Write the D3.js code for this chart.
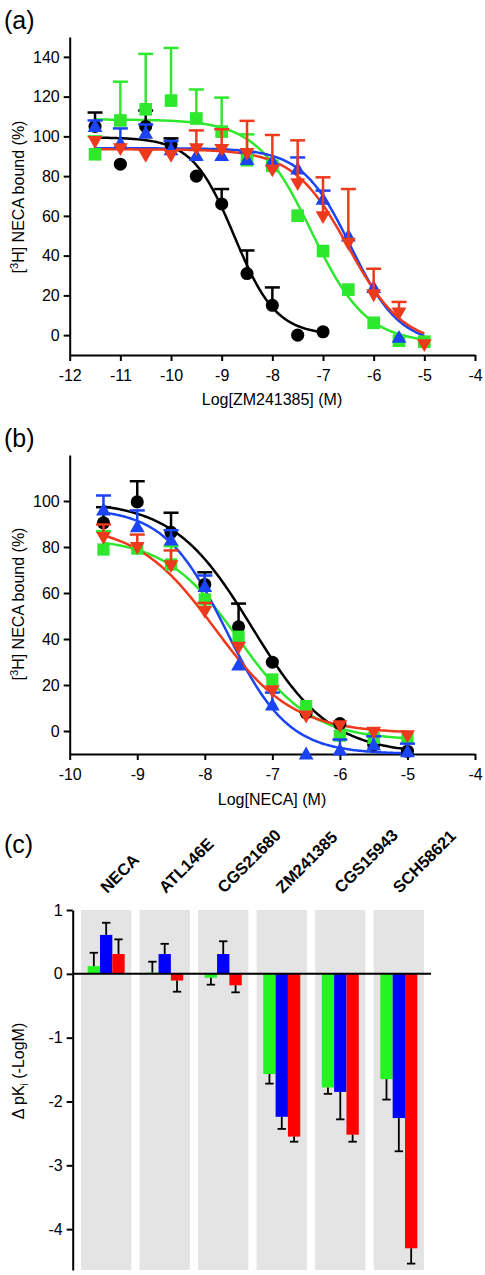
<!DOCTYPE html>
<html><head><meta charset="utf-8">
<script src="https://cdn.jsdelivr.net/npm/d3@7"></script>
<style>body{margin:0;background:#fff} text{font-family:"Liberation Sans",Arial,Helvetica,sans-serif}</style>
</head><body><svg id="c" width="485" height="1275"></svg>
<script>
// ---------- Panel (a): ZM241385 competition ----------
const aX = [-11.5,-11,-10.5,-10,-9.5,-9,-8.5,-8,-7.5,-7,-6.5,-6,-5.5,-5];
const aBlack    = [105,86,105,96,80,66,31,15,0,1.7,null,null,null,null];
const aBlackErr = [112,null,113,99,null,73.5,42.6,24,null,null,null,null,null,null];
const aGreen    = [91,108,113.6,118,109,102.4,88,85.2,60.1,42.3,22.9,6.2,-2.8,-3.3];
const aGreenErr = [100,127.5,141.5,144.5,123.6,119.5,101,null,null,null,null,null,null,null];
const aBlue     = [104.4,96,101,92.7,89.7,89.7,87.7,86.9,83,67.7,49.3,23.4,-1.7,null];
const aBlueErr  = [108,104,106,97.7,null,null,91.9,null,89.4,72.7,null,null,null,null];
const aRed      = [98,94.4,91,91,94.4,94,92,83.7,76.8,60.2,46.8,20.9,11.7,-4.2];
const aRedErr   = [null,null,null,null,103,103.6,107.8,100.7,98,79.4,73.5,33.4,16.7,null];
// fitted curve parameters: [top, bottom, logIC50, hill, xStart, xEnd]
const aFitBlack = [99.5,0,-8.75,1.05,-11.5,-7];
const aFitGreen = [108.5,-4,-7.23,0.8,-11.5,-5];
const aFitBlue  = [94,-5,-6.45,0.9,-11.5,-5];
const aFitRed   = [93.5,-5,-6.5,0.8,-11.5,-5];
const aXTicks = [-12,-11,-10,-9,-8,-7,-6,-5,-4];
const aYTicks = [0,20,40,60,80,100,120,140];

// ---------- Panel (b): NECA competition ----------
const bX = [-9.5,-9,-8.5,-8,-7.5,-7,-6.5,-6,-5.5,-5];
const bBlack    = [90.5,99.6,86.4,63.7,45.3,29.9,7.9,3.2,-6,-8.8];
const bBlackErr = [97.3,108.6,94.9,69,55.4,null,null,null,null,null];
const bGreen    = [78.9,79.3,72.4,57.2,41,22.4,10.8,-2,-3,-3];
const bGreenErr = [86.9,null,80.4,null,null,null,null,null,null,null];
const bBlue     = [95.6,88.3,82.5,62.3,28.2,10.8,-10.5,-8.8,-6.6,-9.5];
const bBlueErr  = [102.4,95.9,87.3,67.6,null,16.7,null,-3.7,-2.3,-5.5];
const bRed      = [84.7,80.3,72.4,52.5,36.9,18,7,2.8,0,-1.5];
const bRedErr   = [89.8,85.4,78.5,55.7,null,null,null,null,null,null];
const bFitBlack = [100,-10,-7.3,0.75,-9.5,-5];
const bFitGreen = [84,-4,-7.5,0.8,-9.5,-5];
const bFitBlue  = [97,-10,-7.68,0.95,-9.5,-5];
const bFitRed   = [90,-1,-7.85,0.75,-9.5,-5];
const bXTicks = [-10,-9,-8,-7,-6,-5,-4];
const bYTicks = [0,20,40,60,80,100];

// ---------- Panel (c): delta pKi ----------
const cCats  = ["NECA","ATL146E","CGS21680","ZM241385","CGS15943","SCH58621"];
const cGreen = [0.12,0.02,-0.06,-1.57,-1.78,-1.65];
const cGreenErr = [0.21,0.17,0.11,0.15,0.10,0.32];
const cBlue  = [0.61,0.31,0.31,-2.24,-1.85,-2.26];
const cBlueErr = [0.19,0.16,0.20,0.19,0.43,0.52];
const cRed   = [0.31,-0.105,-0.18,-2.55,-2.52,-4.30];
const cRedErr = [0.23,0.175,0.11,0.08,0.11,0.24];
const cYTicks = [1,0,-1,-2,-3,-4];

const COL = {black:"#000000", green:"#2ee82e", blue:"#1a44f5", red:"#ee3a1c"};
const svg = d3.select("#c");
const FONT = 16;

function fitY(p, x){ return p[1] + (p[0]-p[1])/(1+Math.pow(10,(x-p[2])*p[3])); }

function curvePanel(opt){
  const x = d3.scaleLinear().domain(opt.xd).range([69.7,475]);
  const y = d3.scaleLinear().domain(opt.yd).range(opt.yr);
  const g = svg.append("g");
  const ax = g.append("g").attr("transform",`translate(0,${opt.yr[0]})`)
    .call(d3.axisBottom(x).tickValues(opt.xt).tickFormat(d=>String(d)).tickSize(6).tickSizeOuter(0).tickPadding(4));
  const ay = g.append("g").attr("transform",`translate(69.7,0)`)
    .call(d3.axisLeft(y).tickValues(opt.yt).tickFormat(d=>String(d)).tickSize(6).tickSizeOuter(0).tickPadding(4));
  [ax,ay].forEach(a=>{a.selectAll("path,line").attr("stroke","#000").attr("stroke-width",2);
    a.selectAll("text").attr("font-size",FONT).attr("fill","#000");});
  ax.selectAll("text").attr("dy","1em");
  const line = d3.line().x(d=>x(d[0])).y(d=>y(d[1]));
  opt.series.forEach(s=>{
    const p = s.fit; const pts = [];
    for(let i=0;i<=200;i++){const xv = p[4]+(p[5]-p[4])*i/200; pts.push([xv,fitY(p,xv)]);}
    g.append("path").attr("d",line(pts)).attr("fill","none").attr("stroke",s.c).attr("stroke-width",2.5);
  });
  opt.series.forEach(s=>{
    const sg = g.append("g");
    opt.xs.forEach((xv,i)=>{
      const v = s.v[i], e = s.e[i];
      if(v==null||e==null) return;
      sg.append("line").attr("x1",x(xv)).attr("x2",x(xv)).attr("y1",y(v)).attr("y2",y(e)).attr("stroke",s.c).attr("stroke-width",2.5);
      sg.append("line").attr("x1",x(xv)-7.5).attr("x2",x(xv)+7.5).attr("y1",y(e)).attr("y2",y(e)).attr("stroke",s.c).attr("stroke-width",2.5);
    });
    opt.xs.forEach((xv,i)=>{
      const v = s.v[i]; if(v==null) return;
      sg.append("path").attr("d",d3.symbol().type(s.sym).size(s.size)())
        .attr("transform",`translate(${x(xv)},${y(v)})${s.rot?" rotate(180)":""}`).attr("fill",s.c);
    });
  });
  g.append("text").attr("x",272).attr("y",opt.titleY).attr("text-anchor","middle").attr("font-size",FONT).text(opt.xTitle);
  const yl = g.append("text").attr("transform",`translate(24,${opt.yLabelC}) rotate(-90)`).attr("text-anchor","middle").attr("font-size",FONT);
  yl.append("tspan").text("[");
  yl.append("tspan").attr("font-size",11).attr("dy",-6).text("3");
  yl.append("tspan").attr("dy",6).text("H] NECA bound (%)");
  g.append("text").attr("x",4).attr("y",opt.letterY).attr("font-size",25).text(opt.letter);
}

const mk = (fit,v,e,c,sym,size,rot)=>({fit,v,e,c,sym,size,rot});
curvePanel({xd:[-12,-4], yd:[-10,150], yr:[355,37], xt:aXTicks, yt:aYTicks, xs:aX,
  xTitle:"Log[ZM241385] (M)", titleY:405, yLabelC:197, letter:"(a)", letterY:29,
  series:[
    mk(aFitBlack,aBlack,aBlackErr,COL.black,d3.symbolCircle,135,false),
    mk(aFitGreen,aGreen,aGreenErr,COL.green,d3.symbolSquare,160,false),
    mk(aFitBlue,aBlue,aBlueErr,COL.blue,d3.symbolTriangle,95,false),
    mk(aFitRed,aRed,aRedErr,COL.red,d3.symbolTriangle,95,true)
  ]});
curvePanel({xd:[-10,-4], yd:[-10,120], yr:[754,455], xt:bXTicks, yt:bYTicks, xs:bX,
  xTitle:"Log[NECA] (M)", titleY:805, yLabelC:604, letter:"(b)", letterY:447,
  series:[
    mk(bFitBlack,bBlack,bBlackErr,COL.black,d3.symbolCircle,135,false),
    mk(bFitGreen,bGreen,bGreenErr,COL.green,d3.symbolSquare,150,false),
    mk(bFitBlue,bBlue,bBlueErr,COL.blue,d3.symbolTriangle,95,false),
    mk(bFitRed,bRed,bRedErr,COL.red,d3.symbolTriangle,95,true)
  ]});

// ---------- Panel (c) ----------
(function(){
  const g = svg.append("g");
  const y = d3.scaleLinear().domain([-4.64,1]).range([1270,910]);
  const x0 = d3.scaleBand().domain(cCats).range([81,424]).paddingInner(0.14).paddingOuter(0);
  const series = [{k:"g",v:cGreen,e:cGreenErr,c:"#22f522"},{k:"b",v:cBlue,e:cBlueErr,c:"#0000ff"},{k:"r",v:cRed,e:cRedErr,c:"#ff0000"}];
  const x1 = d3.scaleBand().domain(series.map(s=>s.k)).range([0,37]);
  g.selectAll("rect.band").data(cCats).join("rect").attr("class","band")
    .attr("x",d=>x0(d)).attr("width",x0.bandwidth()).attr("y",y(1)).attr("height",y(-4.64)-y(1)).attr("fill","#e4e4e4");
  series.forEach(s=>{
    cCats.forEach((cat,i)=>{
      const bx = x0(cat)+x0.bandwidth()/2-18.5+x1(s.k);
      const v = s.v[i];
      g.append("rect").attr("x",bx).attr("width",x1.bandwidth()).attr("y",y(Math.max(0,v))).attr("height",Math.abs(y(v)-y(0))).attr("fill",s.c);
      const ev = v>=0 ? v+s.e[i] : v-s.e[i];
      const cx = bx+x1.bandwidth()/2;
      g.append("line").attr("x1",cx).attr("x2",cx).attr("y1",y(v)).attr("y2",y(ev)).attr("stroke","#000").attr("stroke-width",1.8);
      g.append("line").attr("x1",cx-4.2).attr("x2",cx+4.2).attr("y1",y(ev)).attr("y2",y(ev)).attr("stroke","#000").attr("stroke-width",1.8);
    });
  });
  g.append("line").attr("x1",72.7).attr("x2",431).attr("y1",y(0)).attr("y2",y(0)).attr("stroke","#000").attr("stroke-width",2);
  const ay = g.append("g").attr("transform","translate(72.7,0)")
    .call(d3.axisLeft(y).tickValues(cYTicks).tickFormat(d=>String(d)).tickSize(6).tickSizeOuter(0).tickPadding(4));
  ay.selectAll("path,line").attr("stroke","#000").attr("stroke-width",2);
  ay.selectAll("text").attr("font-size",FONT).attr("fill","#000");
  g.selectAll("text.cat").data(cCats).join("text").attr("class","cat")
    .attr("transform",d=>`translate(${x0(d)+x0.bandwidth()/2+1},894) rotate(-45)`)
    .attr("font-size",16.5).attr("font-weight","bold").text(d=>d);
  const yl = g.append("text").attr("transform","translate(24,1071) rotate(-90)").attr("text-anchor","middle").attr("font-size",FONT);
  yl.append("tspan").text("Δ pK");
  yl.append("tspan").attr("font-size",10).attr("dy",4).text("i");
  yl.append("tspan").attr("dy",-4).text(" (-LogM)");
  g.append("text").attr("x",4).attr("y",853).attr("font-size",25).text("(c)");
})();
</script></body></html>
